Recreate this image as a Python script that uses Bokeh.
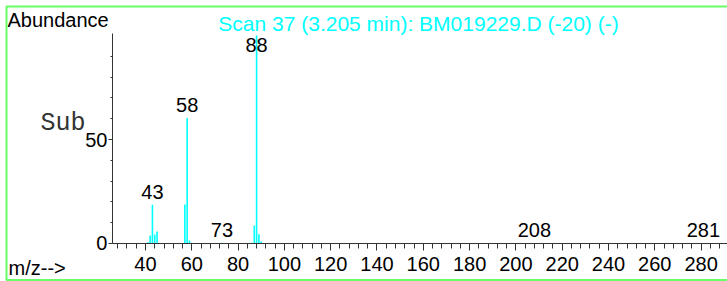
from bokeh.plotting import figure
from bokeh.embed import file_html
from bokeh.resources import INLINE
from bokeh.models import Label, BoxAnnotation, FixedTicker, Range1d, ColumnDataSource
from bokeh.core.properties import value

# ---- data (m/z, relative abundance %) ----
mz = [39, 41, 42, 43, 44, 45, 51, 57, 58, 59, 60, 61, 67, 70, 73, 74, 77, 86, 87, 88, 89, 90, 91, 208, 281]
abundance = [0.3, 0.6, 3.8, 18.6, 4.3, 5.8, 0.3, 18.7, 60.3, 1.5, 0.4, 0.3, 0.3, 0.3, 0.4, 0.3, 0.3, 0.4, 8.7, 100.0, 4.4, 1.0, 0.3, 0.3, 0.3]
label_mz = [43, 58, 73, 88, 208, 281]
x_ticks = [40, 60, 80, 100, 120, 140, 160, 180, 200, 220, 240, 260, 280]
y_ticks = [0, 50]
y_minor = [10, 20, 30, 40, 60, 70, 80, 90]
title_text = "Scan 37 (3.205 min): BM019229.D (-20) (-)"

CYAN = "#00FFFF"
FONT = "Liberation Sans"
AX = "#333333"

x_axis_span = (25.7, 291.4)
y_axis_span = (0, 101)

p = figure(width=727, height=281, x_range=Range1d(-22.63, 291.4), y_range=Range1d(-18.27, 116.83),
           output_backend="svg", toolbar_location=None, title=None,
           min_border_left=0, min_border_right=0, min_border_top=0, min_border_bottom=0)
p.outline_line_color = None
p.xgrid.visible = False
p.ygrid.visible = False
p.background_fill_color = "white"
p.border_fill_color = "white"

# peaks
src = ColumnDataSource(dict(x=mz, y0=[0] * len(mz), y1=abundance))
p.segment(x0="x", y0="y0", x1="x", y1="y1", source=src, line_color=CYAN, line_width=1.6)

# peak labels
ab_map = dict(zip(mz, abundance))
lab_y = [min(ab_map.get(m, 0.0), 89.0) for m in label_mz]
lsrc = ColumnDataSource(dict(x=label_mz, y=lab_y, t=[str(m) for m in label_mz]))
p.text(x="x", y="y", text="t", source=lsrc, text_align="center", text_baseline="alphabetic",
       y_offset=-13, text_font=value(FONT), text_font_size="20px", text_color="black")

# axes (drawn at fixed data locations so that the frame fills the canvas)
minor_x = [m for m in range(28, 292, 4) if m % 20 != 0]
xa = p.xaxis[0]
xa.fixed_location = 0
xa.bounds = x_axis_span
xa.ticker = FixedTicker(ticks=x_ticks, minor_ticks=minor_x)
xa.major_tick_out = 7
xa.major_tick_in = 0
xa.minor_tick_out = 5
xa.minor_tick_in = 0
xa.axis_line_color = AX
xa.major_tick_line_color = AX
xa.minor_tick_line_color = AX
xa.major_label_text_font = FONT
xa.major_label_text_font_size = "20px"
xa.major_label_text_color = "black"
xa.major_label_standoff = 7

ya = p.yaxis[0]
ya.fixed_location = x_axis_span[0]
ya.bounds = y_axis_span
ya.ticker = FixedTicker(ticks=y_ticks, minor_ticks=y_minor)
ya.major_tick_out = 4
ya.major_tick_in = 0
ya.minor_tick_out = 2
ya.minor_tick_in = 0
ya.axis_line_color = AX
ya.major_tick_line_color = AX
ya.minor_tick_line_color = AX
ya.major_label_text_font = FONT
ya.major_label_text_font_size = "20px"
ya.major_label_text_color = "black"
ya.major_label_standoff = 1

# texts (screen units relative to the frame: x from left, y up from bottom)
p.add_layout(Label(x=7, y=262, x_units="screen", y_units="screen", text="Abundance",
                   text_font=FONT, text_font_size="20px", text_color="black",
                   text_align="left", text_baseline="alphabetic"))
p.add_layout(Label(x=418, y=258, x_units="screen", y_units="screen", text=title_text,
                   text_font=FONT, text_font_size="21px", text_color=CYAN,
                   text_align="center", text_baseline="alphabetic"))
p.add_layout(Label(x=40, y=158, x_units="screen", y_units="screen", text="Sub",
                   text_font="Liberation Mono", text_font_size="25px", text_color=AX,
                   text_align="left", text_baseline="alphabetic"))
p.add_layout(Label(x=8, y=14, x_units="screen", y_units="screen", text="m/z-->",
                   text_font=FONT, text_font_size="20px", text_color="black",
                   text_align="left", text_baseline="alphabetic"))

# green frame around the panel
p.add_layout(BoxAnnotation(left=6, right=800, top=275, bottom=1.5,
                           left_units="screen", right_units="screen",
                           top_units="screen", bottom_units="screen",
                           fill_alpha=0, line_color="#66FF66", line_alpha=1.0, line_width=2))

open("out.html", "w").write(file_html(p, INLINE))
